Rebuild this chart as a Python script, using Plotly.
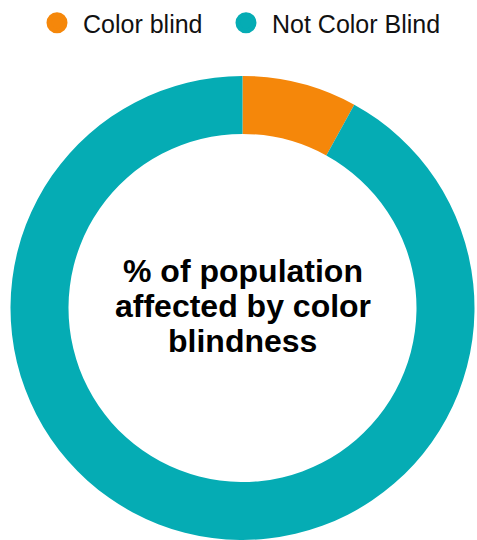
import plotly.graph_objects as go

# Data
labels = ["Color blind", "Not Color Blind"]
values = [8, 92]
colors = ["#F5870A", "#05ACB4"]
center_lines = ["% of population", "affected by color", "blindness"]

W, H = 477, 540

fig = go.Figure()

fig.add_trace(go.Pie(
    labels=labels,
    values=values,
    hole=0.75,
    sort=False,
    direction="clockwise",
    rotation=0,
    marker=dict(colors=colors, line=dict(width=0)),
    textinfo="none",
    hoverinfo="label+percent",
    showlegend=False,
    domain=dict(x=[9 / W, 476 / W], y=[0, 1 - 76 / H]),
))

# Legend entries with circular symbols
legend_widths = [132, None]
for lab, col, lw in zip(labels, colors, legend_widths):
    fig.add_trace(go.Scatter(
        x=[None], y=[None], mode="markers", name=lab,
        marker=dict(symbol="circle", size=16, color=col,
                    line=dict(width=5, color=col)),
        showlegend=True,
        legendwidth=lw,
    ))

line_px = [270.5, 305.5, 340.5]
annotations = []
for txt, ypx in zip(center_lines, line_px):
    annotations.append(dict(
        text=f"<b>{txt}</b>", x=242.5 / W, y=1 - ypx / H,
        xref="paper", yref="paper", xanchor="center", yanchor="middle",
        showarrow=False,
        font=dict(family="Arial, Liberation Sans, sans-serif", size=32, color="#000000"),
    ))

fig.update_layout(
    width=W, height=H,
    margin=dict(l=0, r=0, t=0, b=0),
    paper_bgcolor="white",
    plot_bgcolor="white",
    xaxis=dict(visible=False),
    yaxis=dict(visible=False),
    showlegend=True,
    legend=dict(
        orientation="h", x=0.5, xanchor="center", y=1, yanchor="top",
        font=dict(family="Arial, Liberation Sans, sans-serif", size=25, color="#111111"),
        itemsizing="trace",
        itemwidth=42,
        bgcolor="rgba(0,0,0,0)",
    ),
    annotations=annotations,
)

fig.write_html("out.html")
